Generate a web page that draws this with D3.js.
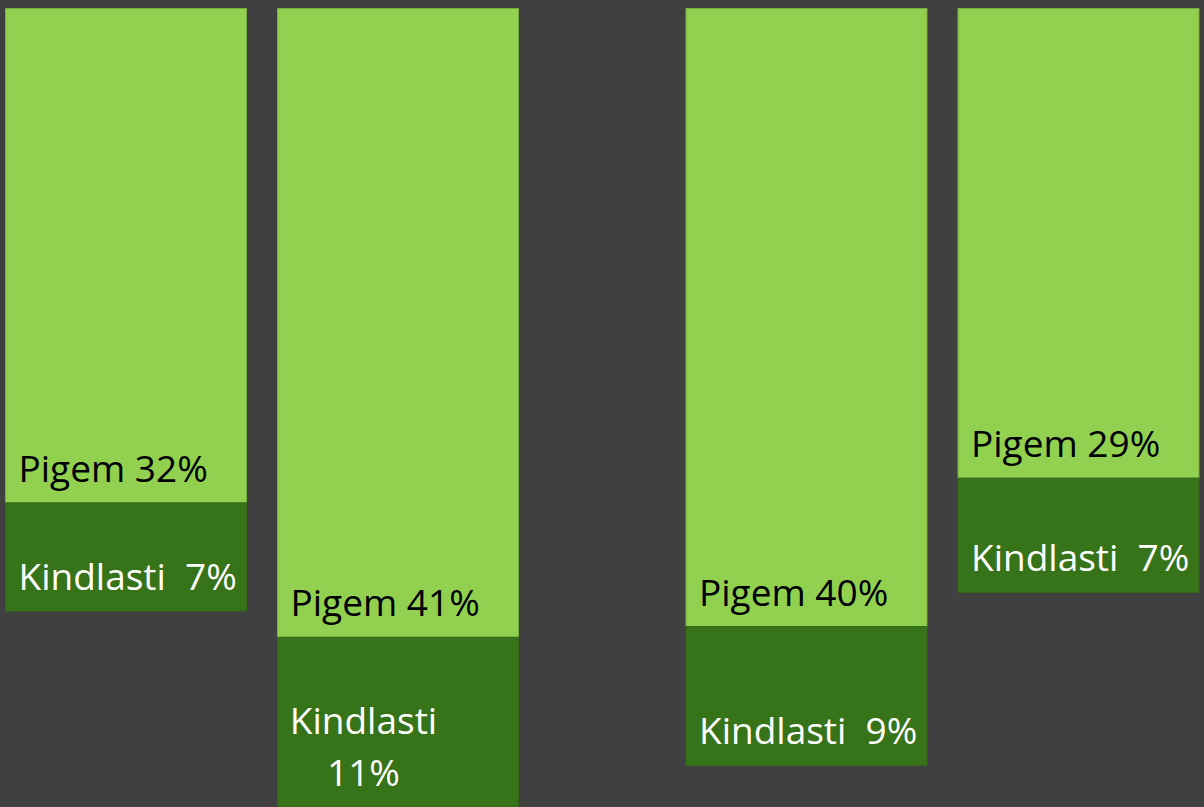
<!DOCTYPE html>
<html>
<head>
<meta charset="utf-8">
<script src="https://cdn.jsdelivr.net/npm/d3@7"></script>
<style>
  html, body { margin: 0; padding: 0; background: #404040; }
  svg { display: block; }
  text { font-family: "Open Sans", "Noto Sans", sans-serif; font-size: 37px; }
</style>
</head>
<body>
<script>
// two groups of two bars, hanging from the top
var groups = ["A", "B"],
    members = ["1", "2"];

var pigem = [32, 40.7, 40, 30.4],
    kindlasti = [7, 11, 9, 7.4];

var pigemLabels = ["Pigem 32%", "Pigem 41%", "Pigem 40%", "Pigem 29%"],
    kindlastiLabels = [["Kindlasti  7%"], ["Kindlasti", "11%"], ["Kindlasti  9%"], ["Kindlasti  7%"]];

var width = 1204,
    height = 807;

var bars = pigem.map(function(p, i) {
  return {
    group: groups[Math.floor(i / 2)],
    member: members[i % 2],
    pigem: p,
    kindlasti: kindlasti[i],
    pLabel: pigemLabels[i],
    kLabel: kindlastiLabels[i]
  };
});

var x0 = d3.scaleBand()
    .domain(groups)
    .range([5.5, 5.5 + 2 * 680.5]);

var x1 = d3.scaleBand()
    .domain(members)
    .range([0, 513])
    .paddingInner(31 / 272);

var y = d3.scaleLinear()
    .domain([0, 52])
    .range([8.5, 8.5 + 52 * 15.45]);

var svg = d3.select("body").append("svg")
    .attr("width", width)
    .attr("height", height);

var bar = svg.selectAll("g.bar")
    .data(bars)
  .enter().append("g")
    .attr("class", "bar")
    .attr("transform", function(d) { return "translate(" + (x0(d.group) + x1(d.member)) + ",0)"; });

bar.append("rect")
    .attr("y", y(0))
    .attr("width", x1.bandwidth())
    .attr("height", function(d) { return y(d.pigem) - y(0); })
    .style("fill", "#92d050")
    .style("stroke", "#77ac41")
    .style("stroke-width", 1);

bar.append("rect")
    .attr("y", function(d) { return y(d.pigem); })
    .attr("width", x1.bandwidth())
    .attr("height", function(d) { return y(d.pigem + d.kindlasti) - y(d.pigem); })
    .style("fill", "#377318")
    .style("stroke", "#306815")
    .style("stroke-width", 1);

bar.append("text")
    .attr("x", 13)
    .attr("y", function(d) { return y(d.pigem) - 21; })
    .style("fill", "#000")
    .text(function(d) { return d.pLabel; });

var k = bar.append("text")
    .attr("x", 13)
    .style("fill", "#fff")
    .style("white-space", "pre")
    .attr("y", function(d) { return y(d.pigem + d.kindlasti) - 21.5 - 52 * (d.kLabel.length - 1); });

k.each(function(d) {
  var t = d3.select(this);
  if (d.kLabel.length == 1) {
    t.text(d.kLabel[0]);
  } else {
    // second line sits centred under the first
    t.append("tspan").attr("x", 86).attr("text-anchor", "middle").text(d.kLabel[0]);
    t.append("tspan").attr("x", 86).attr("dy", 52).attr("text-anchor", "middle").text(d.kLabel[1]);
  }
});
</script>
</body>
</html>
